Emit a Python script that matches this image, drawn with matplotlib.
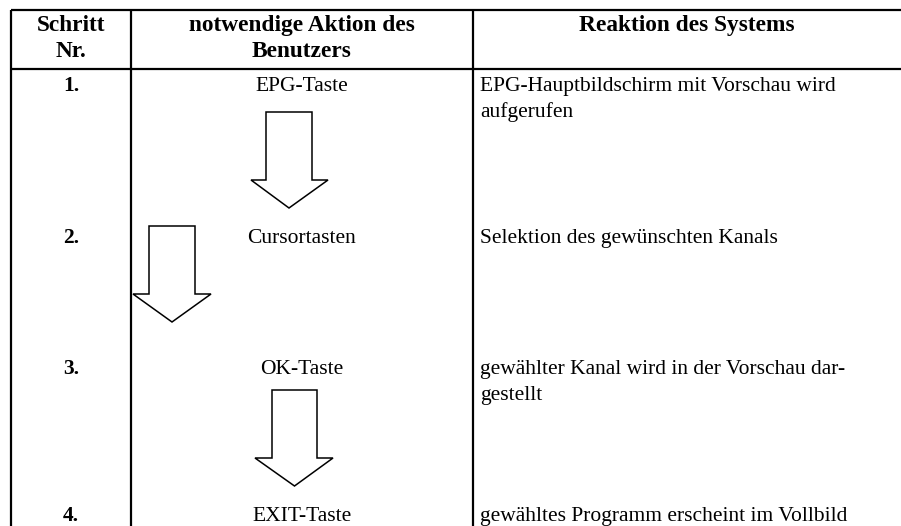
import matplotlib.pyplot as plt
from matplotlib.patches import Polygon

# table content
header = [["Schritt", "Nr."], ["notwendige Aktion des", "Benutzers"], ["Reaktion des Systems"]]
steps = ["1.", "2.", "3.", "4."]
actions = ["EPG-Taste", "Cursortasten", "OK-Taste", "EXIT-Taste"]
reactions = [
    ["EPG-Hauptbildschirm mit Vorschau wird", "aufgerufen"],
    ["Selektion des gewünschten Kanals"],
    ["gewählter Kanal wird in der Vorschau dar-", "gestellt"],
    ["gewähltes Programm erscheint im Vollbild"],
]
row_base = [91, 243, 374, 521]

# arrows: shaft left, shaft right, top, head base, head left, head right, tip
arrows = [
    (266, 312, 112, 180, 251, 328, 208),
    (149, 195, 226, 294, 133, 211, 322),
    (272, 317, 390, 458, 255, 333, 486),
]

col_x = [11, 131, 473]
top_y, head_y = 10, 69
W, H = 901, 526
line_h = 26

fig = plt.figure(figsize=(W / 100, H / 100), dpi=100)
ax = fig.add_axes([0, 0, 1, 1])
ax.set_xlim(0, W)
ax.set_ylim(H, 0)
ax.axis("off")

lw = 1.6
for y in (top_y, head_y):
    ax.plot([col_x[0], W], [y, y], color="black", lw=lw, solid_capstyle="butt")
for x in col_x:
    ax.plot([x, x], [top_y, H], color="black", lw=lw, solid_capstyle="butt")

font = "Liberation Serif"
fs = 15.5
centers = [(col_x[0] + col_x[1]) / 2, (col_x[1] + col_x[2]) / 2, (col_x[2] + W) / 2]

for i, lines in enumerate(header):
    for k, t in enumerate(lines):
        ax.text(centers[i], 31 + k * line_h, t, ha="center", va="baseline",
                fontsize=16.8, fontweight="bold", family=font)

for s, a, r, y in zip(steps, actions, reactions, row_base):
    ax.text(centers[0], y, s, ha="center", va="baseline", fontsize=fs,
            fontweight="bold", family=font)
    ax.text(centers[1], y, a, ha="center", va="baseline", fontsize=fs, family=font)
    for k, t in enumerate(r):
        ax.text(col_x[2] + 7, y + k * line_h, t, ha="left", va="baseline",
                fontsize=fs, family=font)

for sl, sr, t, hb, hl, hr, tip in arrows:
    pts = [(sl, t), (sr, t), (sr, hb), (hr, hb), ((sl + sr) / 2, tip),
           (hl, hb), (sl, hb)]
    ax.add_patch(Polygon(pts, closed=True, fill=False, edgecolor="black", lw=1.1))

fig.savefig("out.png", dpi=100)
